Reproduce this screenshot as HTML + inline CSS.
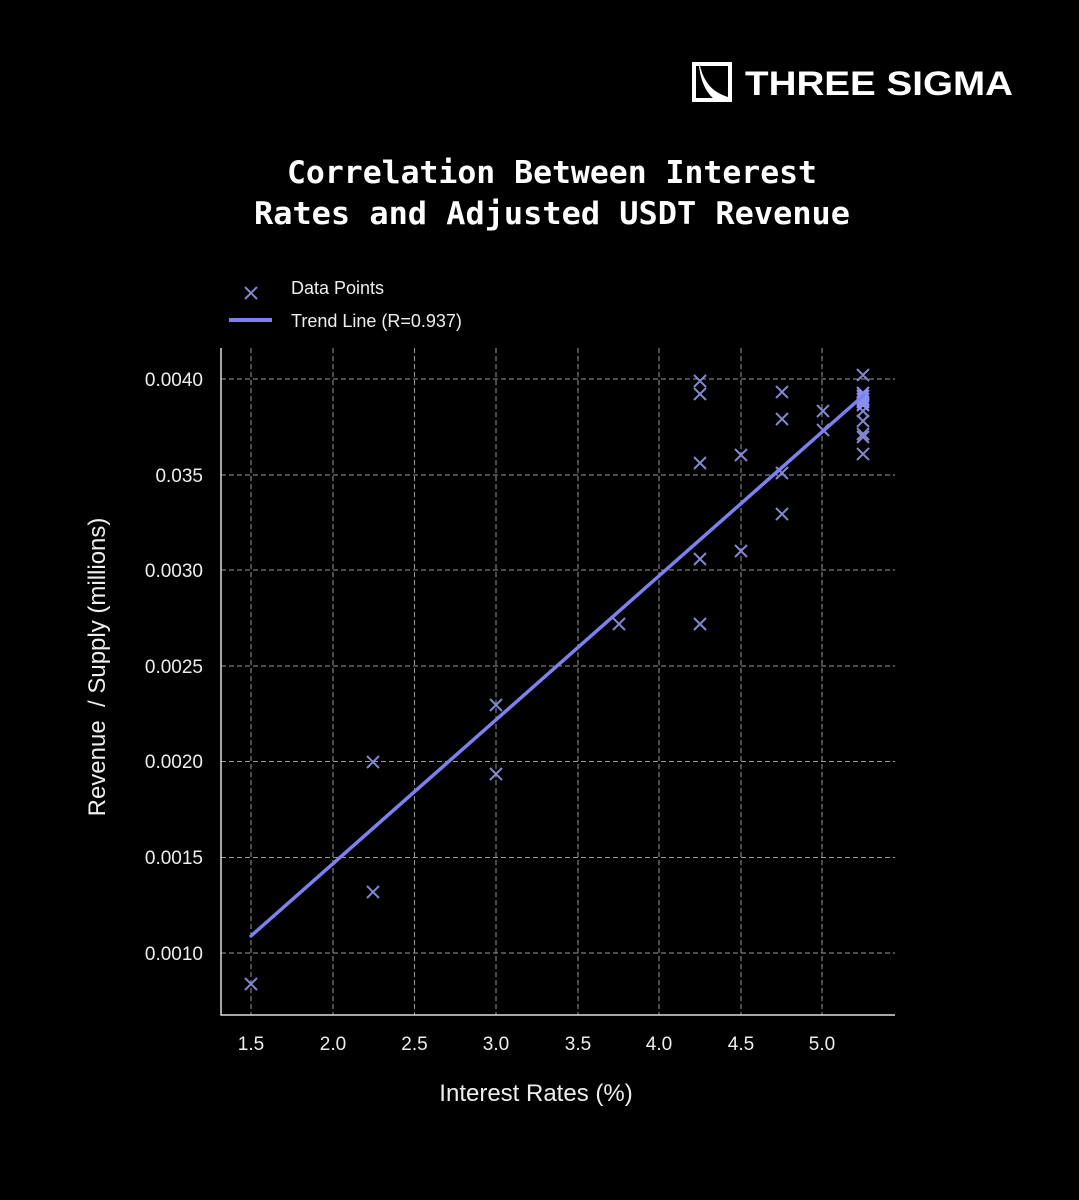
<!DOCTYPE html>
<html><head><meta charset="utf-8"><style>
html,body{margin:0;padding:0;background:#000;}
svg{display:block;}
</style></head><body>
<svg width="1079" height="1200" viewBox="0 0 1079 1200" xmlns="http://www.w3.org/2000/svg">
<rect width="1079" height="1200" fill="#000"/>
<!-- logo -->
<rect x="694" y="64" width="36" height="36" fill="none" stroke="#fff" stroke-width="4"/>
<path d="M700 66 C704 82 712 92 728 97 L728 99 L714 99 C706 92 701 82 699 66 Z" fill="#fff"/>
<text x="745" y="95" font-family="Liberation Sans, sans-serif" font-weight="bold" font-size="34" fill="#fff" textLength="268" lengthAdjust="spacingAndGlyphs">THREE SIGMA</text>
<!-- title -->
<g font-family="DejaVu Sans Mono, Liberation Mono, monospace" font-weight="bold" fill="#fff" text-anchor="middle">
<text x="552" y="183" font-size="31" textLength="530" lengthAdjust="spacingAndGlyphs">Correlation Between Interest</text>
<text x="552" y="224" font-size="31" textLength="596" lengthAdjust="spacingAndGlyphs">Rates and Adjusted USDT Revenue</text>
</g>
<!-- legend -->
<g stroke="#8387cf" stroke-width="2">
<line x1="245" y1="287" x2="257" y2="299"/><line x1="257" y1="287" x2="245" y2="299"/>
</g>
<line x1="229" y1="320" x2="272" y2="320" stroke="#7e80f0" stroke-width="4"/>
<g font-family="Liberation Sans, sans-serif" font-size="18" fill="#eee">
<text x="291" y="294">Data Points</text>
<text x="291" y="327">Trend Line (R=0.937)</text>
</g>
<!-- grid -->
<g stroke="#999" stroke-width="1" stroke-dasharray="5,3">
<line x1="251" y1="348" x2="251" y2="1015"/>
<line x1="333" y1="348" x2="333" y2="1015"/>
<line x1="414.5" y1="348" x2="414.5" y2="1015"/>
<line x1="496" y1="348" x2="496" y2="1015"/>
<line x1="578" y1="348" x2="578" y2="1015"/>
<line x1="659" y1="348" x2="659" y2="1015"/>
<line x1="741" y1="348" x2="741" y2="1015"/>
<line x1="822" y1="348" x2="822" y2="1015"/>
<line x1="221" y1="379" x2="895" y2="379"/>
<line x1="221" y1="475" x2="895" y2="475"/>
<line x1="221" y1="570" x2="895" y2="570"/>
<line x1="221" y1="666" x2="895" y2="666"/>
<line x1="221" y1="761.5" x2="895" y2="761.5"/>
<line x1="221" y1="857.5" x2="895" y2="857.5"/>
<line x1="221" y1="953" x2="895" y2="953"/>
</g>
<!-- axes -->
<line x1="221" y1="348" x2="221" y2="1015.5" stroke="#ddd" stroke-width="1.5"/>
<line x1="220.5" y1="1015" x2="895" y2="1015" stroke="#ddd" stroke-width="1.5"/>
<!-- tick labels -->
<g font-family="Liberation Sans, sans-serif" font-size="19" fill="#eee" text-anchor="end">
<text x="203" y="386">0.0040</text>
<text x="203" y="482">0.035</text>
<text x="203" y="577">0.0030</text>
<text x="203" y="673">0.0025</text>
<text x="203" y="768">0.0020</text>
<text x="203" y="864">0.0015</text>
<text x="203" y="960">0.0010</text>
</g>
<g font-family="Liberation Sans, sans-serif" font-size="19" fill="#eee" text-anchor="middle">
<text x="251" y="1050">1.5</text>
<text x="333" y="1050">2.0</text>
<text x="414.5" y="1050">2.5</text>
<text x="496" y="1050">3.0</text>
<text x="578" y="1050">3.5</text>
<text x="659" y="1050">4.0</text>
<text x="741" y="1050">4.5</text>
<text x="822" y="1050">5.0</text>
</g>
<text x="536" y="1101" font-family="Liberation Sans, sans-serif" font-size="24" fill="#eee" text-anchor="middle">Interest Rates (%)</text>
<text transform="translate(105,667) rotate(-90)" font-family="Liberation Sans, sans-serif" font-size="24" fill="#eee" text-anchor="middle" xml:space="preserve">Revenue  / Supply (millions)</text>
<!-- points -->
<g stroke="#8387cf" stroke-width="2" fill="none">
<path d="
M245 978l12 12M257 978l-12 12
M367 756l12 12M379 756l-12 12
M367 886l12 12M379 886l-12 12
M490 699l12 12M502 699l-12 12
M490 768l12 12M502 768l-12 12
M613 618l12 12M625 618l-12 12
M694 375l12 12M706 375l-12 12
M694 388l12 12M706 388l-12 12
M694 457l12 12M706 457l-12 12
M694 553l12 12M706 553l-12 12
M694 618l12 12M706 618l-12 12
M735 449l12 12M747 449l-12 12
M735 545l12 12M747 545l-12 12
M776 386l12 12M788 386l-12 12
M776 413l12 12M788 413l-12 12
M776 467l12 12M788 467l-12 12
M776 508l12 12M788 508l-12 12
M817 405l12 12M829 405l-12 12
M817 424l12 12M829 424l-12 12
M857 369l12 12M869 369l-12 12
M857 405l12 12M869 405l-12 12
M857 415l12 12M869 415l-12 12
M857 428l12 12M869 428l-12 12
M857 431l12 12M869 431l-12 12
M857 448l12 12M869 448l-12 12
"/>
</g>
<g stroke="#8a8ef0" stroke-width="2.2" fill="none">
<path d="M857 387l12 12M869 387l-12 12
M857 390l12 12M869 390l-12 12
M857 393l12 12M869 393l-12 12
M857 396l12 12M869 396l-12 12
M857 399l12 12M869 399l-12 12"/>
</g>
<rect x="859" y="392" width="9" height="15" fill="#8a8ef0"/>
<!-- trend -->
<line x1="251" y1="936" x2="864" y2="395" stroke="#7e80f0" stroke-width="3.5" stroke-linecap="round"/>
</svg>
</body></html>
